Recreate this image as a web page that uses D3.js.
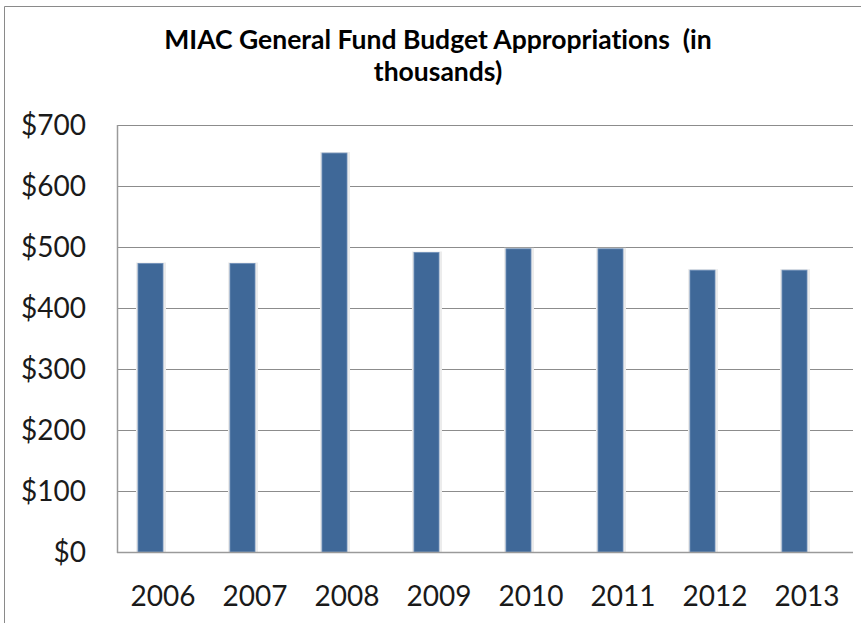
<!DOCTYPE html>
<html>
<head>
<meta charset="utf-8">
<script src="https://cdn.jsdelivr.net/npm/d3@7"></script>
<style>
  html, body { margin: 0; padding: 0; background: #fff; }
  svg { display: block; }
  text { font-variant-ligatures: none; font-feature-settings: "liga" 0; }
</style>
</head>
<body>
<div id="chart"></div>
<script>
const years = ["2006", "2007", "2008", "2009", "2010", "2011", "2012", "2013"];
const appropriations = [473, 473, 654, 491, 497, 497, 462, 462];
const yTicks = [0, 100, 200, 300, 400, 500, 600, 700];
const titleLines = ["MIAC General Fund Budget Appropriations  (in", "thousands)"];

const W = 861, H = 623;
const plot = { left: 117, right: 853, top: 125, bottom: 552 };

const svg = d3.select("#chart").append("svg")
  .attr("width", W).attr("height", H);

// outer chart border (left and top visible)
svg.append("path")
  .attr("d", `M4.5,${H} L4.5,6.5 L${W},6.5`)
  .attr("fill", "none").attr("stroke", "#8a8a8a").attr("stroke-width", 1);

const x = d3.scaleBand().domain(years).range([plot.left, plot.right]).padding(0);
const y = d3.scaleLinear().domain([0, 700]).range([plot.bottom, plot.top]);

// gridlines
svg.append("g").selectAll("line").data(yTicks.filter(d => d > 0)).join("line")
  .attr("x1", plot.left).attr("x2", plot.right)
  .attr("y1", d => Math.round(y(d)) + 0.5).attr("y2", d => Math.round(y(d)) + 0.5)
  .attr("stroke", "#8c8c8c").attr("stroke-width", 1);

// bars (primary series sits on the left half of each category slot)
const barW = x.bandwidth() * 0.272;
const bars = svg.append("g");
bars.selectAll("rect.glow").data(years).join("rect")
  .attr("class", "glow")
  .attr("x", (d) => x(d) + x.bandwidth() / 2 - barW - 2)
  .attr("y", (d, i) => y(appropriations[i]) - 1)
  .attr("width", barW + 5)
  .attr("height", (d, i) => plot.bottom - y(appropriations[i]) + 1)
  .attr("fill", "#ececec");
bars.selectAll("rect.bar").data(years).join("rect")
  .attr("class", "bar")
  .attr("x", (d) => x(d) + x.bandwidth() / 2 - barW)
  .attr("y", (d, i) => y(appropriations[i]))
  .attr("width", barW)
  .attr("height", (d, i) => plot.bottom - y(appropriations[i]))
  .attr("fill", "#3f6898")
  .attr("stroke", "#6f8fb8").attr("stroke-width", 0.8);

// axes lines
svg.append("line")
  .attr("x1", plot.left + 0.5).attr("x2", plot.left + 0.5)
  .attr("y1", plot.top).attr("y2", plot.bottom + 1)
  .attr("stroke", "#9a9a9a").attr("stroke-width", 1.5);
svg.append("line")
  .attr("x1", plot.left).attr("x2", plot.right)
  .attr("y1", plot.bottom + 0.5).attr("y2", plot.bottom + 0.5)
  .attr("stroke", "#9a9a9a").attr("stroke-width", 1.5);

// y tick labels
svg.append("g").selectAll("text").data(yTicks).join("text")
  .attr("x", 86)
  .attr("y", d => y(d) + 10)
  .attr("text-anchor", "end")
  .attr("font-family", "Lato, 'Open Sans', sans-serif")
  .attr("font-size", 28)
  .attr("fill", "#1a1a1a")
  .text(d => "$" + d);

// x tick labels
svg.append("g").selectAll("text").data(years).join("text")
  .attr("x", d => x(d) + x.bandwidth() / 2)
  .attr("y", 606)
  .attr("text-anchor", "middle")
  .attr("font-family", "Lato, 'Open Sans', sans-serif")
  .attr("font-size", 28)
  .attr("fill", "#1a1a1a")
  .text(d => d);

// title
svg.append("g").selectAll("text").data(titleLines).join("text")
  .attr("x", 438)
  .attr("y", (d, i) => 49 + i * 32)
  .attr("text-anchor", "middle")
  .attr("font-family", "Lato, 'Open Sans', sans-serif")
  .attr("font-weight", "bold")
  .attr("font-size", 26.5)
  .attr("fill", "#000")
  .attr("xml:space", "preserve")
  .style("white-space", "pre")
  .text(d => d);
</script>
</body>
</html>
